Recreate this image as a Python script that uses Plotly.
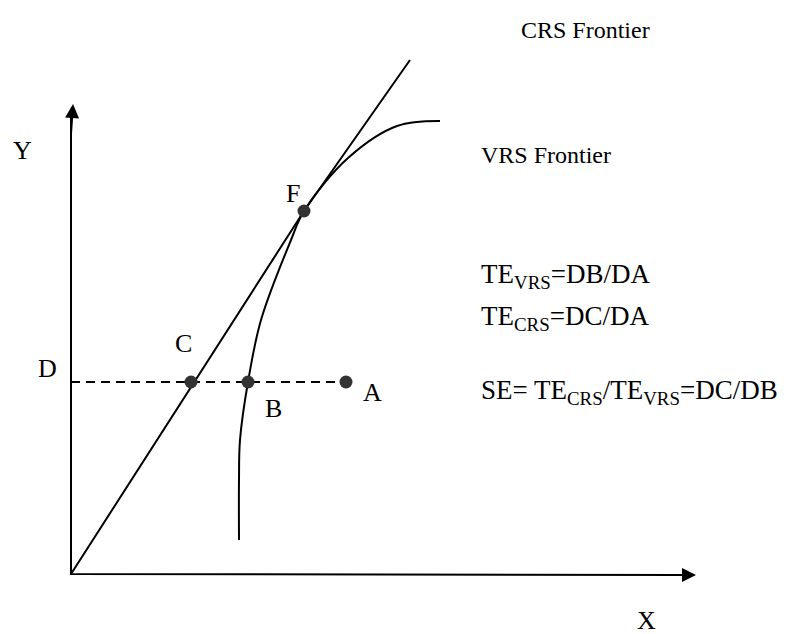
import plotly.graph_objects as go

# Diagram coordinates (origin at axes intersection)
crs_x = [0, 233, 339]
crs_y = [0, 363, 514]

vrs_x = [168, 168, 169, 177, 190, 220, 233, 277, 326, 369]
vrs_y = [34, 94, 134, 192, 254, 334, 363, 416, 448, 453]

dash_x = [0, 275]
dash_y = [192, 192]

pt_names = ["C", "B", "A", "F"]
pt_x = [120, 177, 275, 233]
pt_y = [192, 192, 192, 363]

FONT = "Liberation Serif"

fig = go.Figure()

fig.add_trace(go.Scatter(x=crs_x, y=crs_y, mode="lines",
                         line=dict(color="black", width=2), hoverinfo="skip"))
fig.add_trace(go.Scatter(x=vrs_x, y=vrs_y, mode="lines",
                         line=dict(color="black", width=2, shape="spline", smoothing=1.0),
                         hoverinfo="skip"))
fig.add_trace(go.Scatter(x=dash_x, y=dash_y, mode="lines",
                         line=dict(color="black", width=2, dash="9px,6px"), hoverinfo="skip"))
fig.add_trace(go.Scatter(x=pt_x, y=pt_y, mode="markers",
                         marker=dict(color="#333333", size=13, line=dict(width=0)),
                         hoverinfo="skip"))

# Axes with arrows
fig.add_trace(go.Scatter(x=[0, 0, 612], y=[462, 0, -1], mode="lines",
                         line=dict(color="black", width=2), hoverinfo="skip"))
fig.add_annotation(x=2, y=470, ax=0, ay=440, xref="x", yref="y", axref="x", ayref="y",
                   showarrow=True, arrowhead=2, arrowsize=1.4, arrowwidth=2, arrowcolor="black", text="")
fig.add_annotation(x=625, y=-1, ax=595, ay=-1, xref="x", yref="y", axref="x", ayref="y",
                   showarrow=True, arrowhead=2, arrowsize=1.4, arrowwidth=2, arrowcolor="black", text="")

letters = [("Y", -49, 424), ("X", 575, -46), ("D", -24, 206), ("C", 112, 231),
           ("B", 202, 166), ("A", 301, 182), ("F", 222, 381)]
for t, x, y in letters:
    fig.add_annotation(x=x, y=y, text=t, showarrow=False, xanchor="center", yanchor="middle",
                       font=dict(family=FONT, size=26, color="black"))

texts = [("CRS Frontier", 448, 544, 24),
         ("VRS Frontier", 408, 419, 24),
         ("TE<sub>VRS</sub>=DB/DA", 408, 298, 27),
         ("TE<sub>CRS</sub>=DC/DA", 408, 256, 27),
         ("SE= TE<sub>CRS</sub>/TE<sub>VRS</sub>=DC/DB", 408, 182, 27)]
for t, x, y, s in texts:
    fig.add_annotation(x=x, y=y, text=t, showarrow=False, xanchor="left", yanchor="middle",
                       font=dict(family=FONT, size=s, color="black"))

# ranges compensate for the page's 8px body margin
fig.update_layout(width=795, height=634, margin=dict(l=0, r=0, t=0, b=0),
                  paper_bgcolor="white", plot_bgcolor="white", showlegend=False,
                  xaxis=dict(range=[-63, 732], visible=False, fixedrange=True),
                  yaxis=dict(range=[-68, 566], visible=False, fixedrange=True))

fig.write_html("out.html")
